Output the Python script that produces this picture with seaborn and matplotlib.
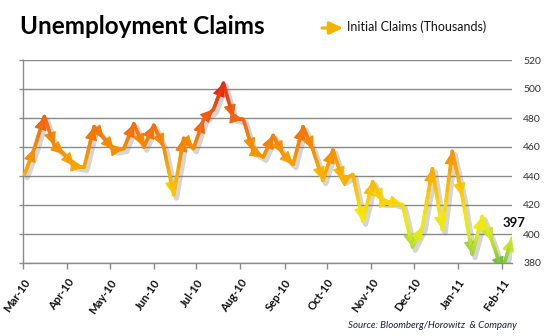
import numpy as np
import pandas as pd
import matplotlib
matplotlib.use('Agg')
import matplotlib.pyplot as plt
import matplotlib.dates as mdates
from matplotlib.colors import LinearSegmentedColormap, Normalize
from matplotlib.collections import LineCollection
from matplotlib.transforms import ScaledTranslation, Bbox
import seaborn as sns

# ---------------- data ----------------
first_week = '2010-03-02'
claims = [441, 459, 481, 461, 455, 447, 446, 474, 466, 458,
          459, 476, 460, 475, 460, 427, 466, 459, 479, 486,
          504, 480, 479, 457, 453, 468, 455, 448, 474, 458,
          437, 458, 437, 441, 409, 436, 422, 422, 420, 391,
          405, 445, 403, 457, 426, 386, 412, 395, 375, 397]
y_ticks = [380, 400, 420, 440, 460, 480, 500, 520]
month_ticks = pd.date_range('2010-03-01', '2011-02-01', freq='MS')
title = 'Unemployment Claims'
series_name = 'Initial Claims (Thousands)'
source = 'Source: Bloomberg/Horowitz  & Company'

dates = pd.date_range(first_week, periods=len(claims), freq='7D')
df = pd.DataFrame({'date': dates, 'claims': claims})

# ---------------- style ----------------
sns.set_theme(style='white')
plt.rcParams['font.family'] = ['Lato', 'DejaVu Sans']

grid_col = '#8a8a8a'
cmap = LinearSegmentedColormap.from_list('claims', [
    (0.00, '#6abf3c'), (0.10, '#a6d63a'), (0.19, '#dcea22'),
    (0.28, '#f7e80a'), (0.38, '#fbcf00'), (0.50, '#f9b000'),
    (0.63, '#f59200'), (0.77, '#f27010'), (0.88, '#ee4e10'),
    (1.00, '#e42a12')])
norm = Normalize(375, 505)

fig = plt.figure(figsize=(5.44, 3.36), dpi=100)
ax = fig.add_axes([23/544, 73/336, 489/544, 203/336])

# soft shadow line via seaborn
sns.lineplot(data=df, x='date', y='claims', ax=ax, color='#808080',
             lw=3.8, alpha=0.33, zorder=2)
shadow = ax.lines[-1]
shadow.set_transform(ax.transData + ScaledTranslation(0.028, -0.032, fig.dpi_scale_trans))

xn = mdates.date2num(dates)
yv = np.asarray(claims, dtype=float)

ax.set_xlim(pd.Timestamp('2010-03-01'), pd.Timestamp('2011-02-08'))
ax.set_ylim(y_ticks[0], y_ticks[-1])

clip = Bbox.from_extents(ax.bbox.x0, ax.bbox.y0, ax.bbox.x1 + 20, ax.bbox.y1 + 20)

# arrows (segments with arrowheads)
for i in range(1, len(claims)):
    ann = ax.annotate('', xy=(xn[i], yv[i]), xytext=(xn[i-1], yv[i-1]),
                      arrowprops=dict(arrowstyle='-|>,head_length=0.8,head_width=0.38',
                                      mutation_scale=10, color=cmap(norm(yv[i])),
                                      lw=1.0, shrinkA=0, shrinkB=0),
                      annotation_clip=False, zorder=3)
    ann.arrow_patch.set_clip_box(clip)
    ann.arrow_patch.set_clip_on(True)

# gradient body of the line
segs, cols = [], []
for i in range(1, len(claims)):
    t = np.linspace(0, 1, 9)
    px = xn[i-1] + (xn[i] - xn[i-1]) * t
    py = yv[i-1] + (yv[i] - yv[i-1]) * t
    for k in range(len(t) - 1):
        segs.append([(px[k], py[k]), (px[k+1], py[k+1])])
        cols.append(cmap(norm((py[k] + py[k+1]) / 2)))
lc = LineCollection(segs, colors=cols, linewidths=2.6, zorder=4, capstyle='round')
ax.add_collection(lc)

# axes styling
ax.set_xlabel('')
ax.set_ylabel('')
ax.set_yticks(y_ticks)
ax.yaxis.grid(True, color=grid_col, lw=1)
ax.xaxis.grid(False)
for s in ['top', 'right']:
    ax.spines[s].set_visible(False)
for s in ['left', 'bottom']:
    ax.spines[s].set_color(grid_col)
    ax.spines[s].set_linewidth(1)

ax.tick_params(axis='y', left=True, right=False, labelleft=False, labelright=True,
               direction='out', length=3, width=1, color=grid_col,
               labelsize=7.5, labelcolor='#303030', pad=5)
ax.set_xticks(month_ticks)
ax.xaxis.set_major_formatter(mdates.DateFormatter('%b-%y'))
ax.tick_params(axis='x', bottom=True, direction='out', length=4, width=1,
               color=grid_col, labelsize=8.1, labelcolor='#111111', pad=6)
for lab in ax.get_xticklabels():
    lab.set_rotation(55)
    lab.set_ha('right')
    lab.set_va('top')
    lab.set_rotation_mode('anchor')
    lab.set_fontweight('bold')

# last value label
ax.annotate(str(claims[-1]), xy=(xn[-1], yv[-1]), xytext=(1.5, 11),
            textcoords='offset points', ha='center', va='center',
            fontsize=9.5, fontweight='bold', color='#111111', annotation_clip=False)

# title, legend, source
fig.text(20/544, 1 - 27/336, title, fontsize=17.5, fontweight='bold',
         va='center', ha='left', color='#000000')
ax.annotate('', xy=(343, 336 - 28), xycoords='figure pixels',
            xytext=(322, 336 - 28), textcoords='figure pixels',
            arrowprops=dict(arrowstyle='-|>,head_length=0.8,head_width=0.38',
                            mutation_scale=10, color='#f6b200', lw=2.2,
                            shrinkA=0, shrinkB=0), annotation_clip=False)
fig.text(347/544, 1 - 27/336, series_name, fontsize=9, va='center',
         ha='left', color='#111111')
fig.text(348/544, 1 - 325/336, source, fontsize=7.0, style='italic',
         va='center', ha='left', color='#1c1c3c')

fig.savefig('out.png', dpi=100)
